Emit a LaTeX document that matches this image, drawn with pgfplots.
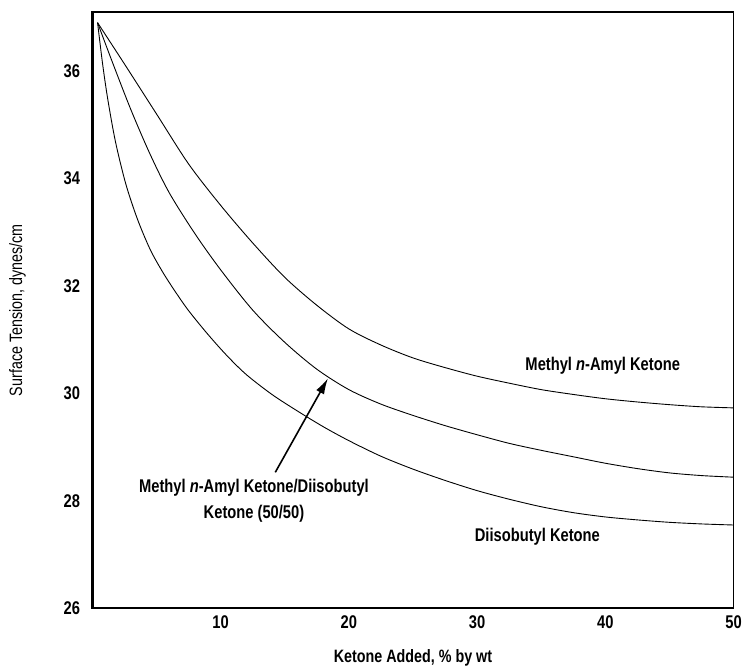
\documentclass[border=0pt]{standalone}
\usepackage{fontspec}
\setmainfont{Liberation Sans}[FakeStretch=0.8]
\usepackage{pgfplots}
\pgfplotsset{compat=1.18}
\usetikzlibrary{arrows.meta}
\begin{document}
\begin{tikzpicture}
\begin{axis}[name=ax, scale only axis, width=645pt, height=600pt,
  xmin=0, xmax=50, ymin=26, ymax=37.1,
  xtick={10,20,30,40,50}, ytick={26,28,30,32,34,36},
  major tick length=0pt, axis line style={draw=none},
  /pgf/number format/assume math mode=true,
  tick label style={font=\bfseries\fontsize{18.5}{20}\selectfont},
  yticklabel style={xshift=-9pt},
  xticklabel style={yshift=-4pt},
  xlabel={\bfseries Ketone Added, \% by wt},
  ylabel={Surface Tension, dynes/cm},
  label style={font=\fontsize{18}{20}\selectfont},
  xlabel style={at={(axis description cs:0.5,-0.083)}, anchor=center},
  ylabel style={at={(axis description cs:-0.117,0.5)}, anchor=center},
  clip=false]
\draw[line width=2.4pt] (rel axis cs:1,0) -- (rel axis cs:0,0) -- (rel axis cs:0,1) -- (rel axis cs:1,1);
\draw[line width=0.8pt] (rel axis cs:1,0) -- (rel axis cs:1,1);
% Methyl n-Amyl Ketone
\addplot[black, line width=0.9pt, smooth, tension=0.5] coordinates {
(0.4,36.9) (2.5,36.13) (5,35.2) (7.5,34.27) (10,33.5) (12.5,32.8) (15,32.16) (17.5,31.64) (20,31.2) (22.5,30.9) (25,30.66) (27.5,30.48) (30,30.32) (32.5,30.19) (35,30.07) (37.5,29.98) (40,29.9) (42.5,29.84) (45,29.79) (47.5,29.75) (50,29.73)};
% 50/50 mixture
\addplot[black, line width=0.9pt, smooth, tension=0.5] coordinates {
(0.4,36.9) (1.5,36.2) (3,35.28) (4.5,34.45) (6,33.73) (8,32.97) (10,32.3) (12.5,31.55) (15,30.95) (17.5,30.45) (20,30.07) (22.5,29.8) (25,29.59) (27.5,29.4) (30,29.23) (32.5,29.07) (35,28.94) (37.5,28.82) (40,28.7) (42.5,28.6) (45,28.52) (47.5,28.47) (50,28.44)};
% Diisobutyl Ketone
\addplot[black, line width=0.9pt, smooth, tension=0.5] coordinates {
(0.4,36.9) (0.8,36.12) (1.2,35.47) (1.8,34.68) (2.6,33.9) (3.5,33.25) (4.5,32.68) (5.5,32.25) (6.5,31.88) (7.5,31.54) (9,31.1) (10.5,30.7) (12,30.35) (14,29.98) (16,29.67) (18,29.38) (20,29.12) (22.5,28.83) (25,28.59) (27.5,28.38) (30,28.19) (32.5,28.03) (35,27.89) (37.5,27.78) (40,27.7) (42.5,27.645) (45,27.6) (47.5,27.57) (50,27.55)};
\node[font=\bfseries\fontsize{18.5}{20}\selectfont] at (axis cs:39.8,30.52) {Methyl \textit{n}-Amyl Ketone};
\node[font=\bfseries\fontsize{18.5}{20}\selectfont] at (axis cs:34.7,27.33) {Diisobutyl Ketone};
\node[font=\bfseries\fontsize{18.5}{20}\selectfont, align=center, inner sep=0pt] at (axis cs:12.6,28.0) {Methyl \textit{n}-Amyl Ketone/Diisobutyl\\[6pt]Ketone (50/50)};
\draw[-{Latex[length=16pt,width=9pt]}, line width=1.6pt] (axis cs:14.26,28.53) -- (axis cs:18.37,30.28);
\end{axis}
\path (ax.south west) ++(-93pt,-58pt);
\path (ax.north east) ++(7pt,12pt);
\end{tikzpicture}
\end{document}
